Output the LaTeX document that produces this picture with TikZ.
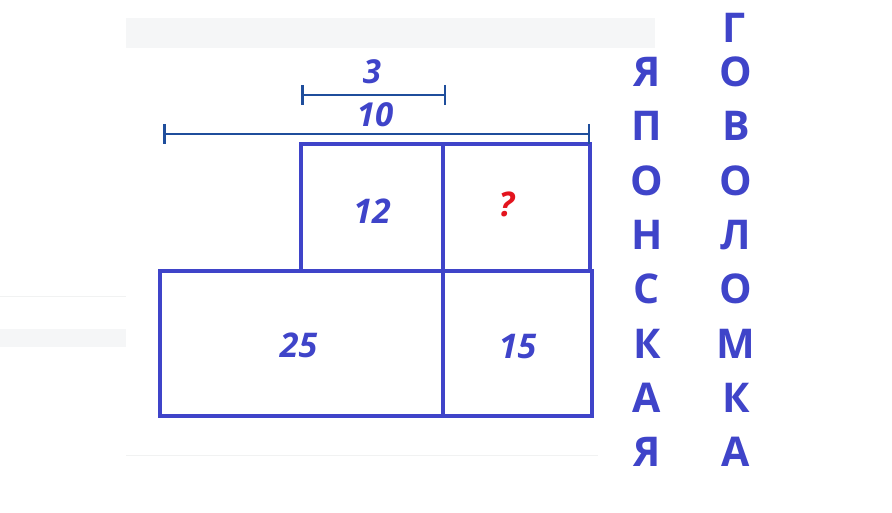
\documentclass[tikz,border=0pt]{standalone}
\usepackage{fontspec}
\setmainfont{Open Sans}
\usepackage{tikz}
\usetikzlibrary{arrows.meta,positioning}
\definecolor{boxblue}{HTML}{3F44C9}
\definecolor{dimblue}{HTML}{1F4E9C}
\definecolor{qred}{HTML}{E3141E}
\definecolor{bandgray}{HTML}{F5F6F7}
\tikzstyle{cell} = [rectangle, draw=boxblue, line width=3.5pt, inner sep=0pt, font=\fontsize{34}{34}\selectfont\bfseries\itshape, text=boxblue]
\tikzstyle{dim} = [draw=dimblue, line width=2.5pt, {Bar[width=20pt]}-{Bar[width=20pt]}]
\tikzstyle{dimlabel} = [font=\fontsize{33}{33}\selectfont\bfseries\itshape, text=boxblue, inner sep=0pt]
\tikzstyle{letter} = [font=\fontsize{41}{41}\selectfont\bfseries, text=boxblue, inner sep=0pt]

\begin{document}
\begin{tikzpicture}[x=1pt, y=-1pt]
		\useasboundingbox (0,0) rectangle (892,513);
		% background bands
		\fill[bandgray] (126,18) rectangle (655,48);
		\fill[bandgray] (0,329) rectangle (126,347);
		\draw[bandgray!80!gray!40, line width=1pt] (0,297) -- (126,297);
		\draw[bandgray!80!gray!40, line width=1pt] (126,455) -- (598,455);
		
		% cells
		\node[cell, minimum width=142pt, minimum height=127pt] (cell_12) at (372,207.5) {};
		\node[cell, minimum width=147pt, minimum height=127pt] (cell_q) at (516.5,207.5) {};
		\node[cell, minimum width=283pt, minimum height=145pt] (cell_25) at (301.5,343.5) {};
		\node[cell, minimum width=149pt, minimum height=145pt] (cell_15) at (517.5,343.5) {};
		\node[cell, draw=none] (val_12) at ([yshift=-4pt]cell_12) {12};
		\node[cell, draw=none, text=qred] (val_q) at ([xshift=-10pt, yshift=3pt]cell_q) {?};
		\node[cell, draw=none] (val_25) at ([xshift=-3pt, yshift=-2pt]cell_25) {25};
		\node[cell, draw=none] (val_15) at ([yshift=-3pt]cell_15) {15};
		
		% dimensions
		\coordinate (dim3_l) at (301,95);
		\coordinate (dim3_r) at (446,95);
		\path [dim] (dim3_l) to (dim3_r);
		\node [dimlabel, above=11pt of dim3_l-|cell_12] (lab3) {3};
		
		\coordinate (dim10_l) at (163,134);
		\coordinate (dim10_r) at (590,134);
		\path [dim] (dim10_l) to (dim10_r);
		\node [dimlabel, above=7pt of dim10_l-|cell_12, xshift=3pt] (lab10) {10};
		
		% words
		\foreach \ch [count=\i from 0] in {Я,П,О,Н,С,К,А,Я}
			\node [letter] (left_\i) at (647,72+54.3*\i) {\ch};
		\node [letter] (right_top) at (734,28) {Г};
		\foreach \ch [count=\i from 0] in {О,В,О,Л,О,М,К,А}
			\node [letter] (right_\i) at (736,72+54.3*\i) {\ch};
\end{tikzpicture}
\end{document}
